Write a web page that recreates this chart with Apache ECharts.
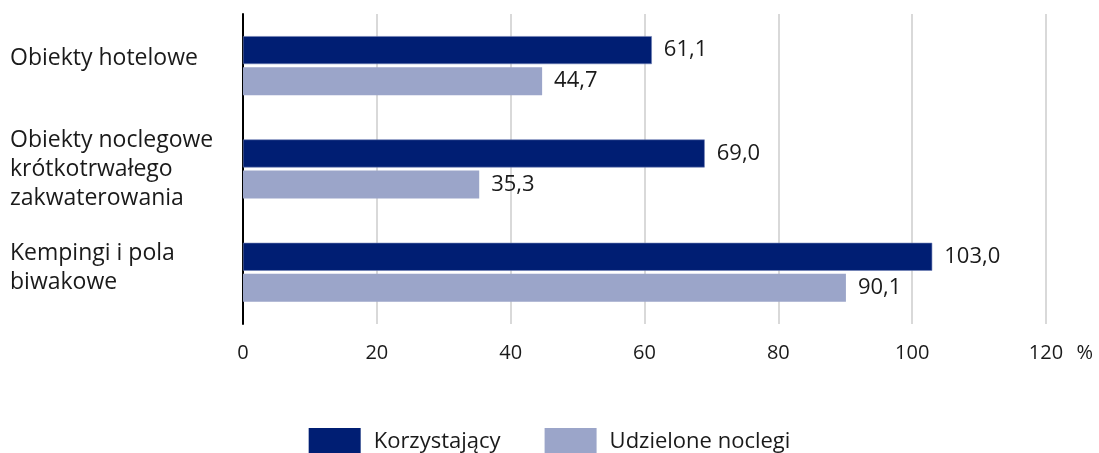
<!DOCTYPE html>
<html><head><meta charset="utf-8">
<script src="https://cdn.jsdelivr.net/npm/echarts@6/dist/echarts.min.js"></script>
<style>html,body{margin:0;padding:0;background:#fff}#c{width:1099px;height:453px}</style>
</head><body><div id="c"></div>
<script>
const categories = ['Obiekty hotelowe', 'Obiekty noclegowe\nkrótkotrwałego\nzakwaterowania', 'Kempingi i pola\nbiwakowe'];
const seriesNames = ['Korzystający', 'Udzielone noclegi'];
const korzystajacy = [61.1, 69.0, 103.0];
const udzieloneNoclegi = [44.7, 35.3, 90.1];
const xTicks = [0, 20, 40, 60, 80, 100, 120];
const unitLabel = '%';

const mainFont = '"Open Sans", "Noto Sans", sans-serif';
const fmt = v => v.toFixed(1).replace('.', ',');
const catShiftKeys = ['g14', '', 'g8'];

const chart = echarts.init(document.getElementById('c'), null, {renderer: 'canvas'});
chart.setOption({
  animation: false,
  grid: {left: 243, right: 53, top: 14, bottom: 129, containLabel: false, outerBoundsMode: 'none'},
  legend: {
    data: seriesNames, bottom: -8, left: 'center', itemWidth: 52, itemHeight: 28, itemGap: 44,
    icon: 'rect', itemStyle: {borderWidth: 0},
    textStyle: {fontFamily: mainFont, fontSize: 22, color: '#1a1a1a', padding: [0,0,0,8]}
  },
  graphic: [{type: 'text', right: 6, top: 343, style: {text: unitLabel, font: '20px "Open Sans", sans-serif', fill: '#1a1a1a'}}],
  xAxis: {
    type: 'value', min: 0, max: 120, interval: 20,
    axisLine: {show: false}, axisTick: {show: false},
    splitLine: {show: true, lineStyle: {color: '#d9d9d9', width: 2}},
    axisLabel: {fontFamily: mainFont, fontSize: 20, color: '#1a1a1a', margin: 19,
      formatter: v => xTicks.includes(v) ? String(v) : ''}
  },
  yAxis: {
    type: 'category', inverse: true, data: categories,
    axisLine: {show: true, lineStyle: {color: '#000', width: 2}},
    axisTick: {show: false},
    axisLabel: {align: 'left', margin: 233, fontFamily: mainFont, fontSize: 23, color: '#1a1a1a', lineHeight: 29,
      formatter: (v, i) => catShiftKeys[i] ? v + '\n{' + catShiftKeys[i] + '|}' : v,
      rich: {g14: {lineHeight: 14, fontSize: 1}, g8: {lineHeight: 8, fontSize: 1}}}
  },
  series: [
    {name: seriesNames[0], type: 'bar', data: korzystajacy, barWidth: 28, barGap: '11%',
     itemStyle: {color: '#001E73', borderColor: '#6f7fb5', borderWidth: 0.6},
     label: {show: true, position: 'right', distance: 12, fontFamily: mainFont, fontSize: 22, color: '#1a1a1a',
       formatter: p => fmt(p.value)}},
    {name: seriesNames[1], type: 'bar', data: udzieloneNoclegi, barWidth: 28,
     itemStyle: {color: '#9BA5C9'},
     label: {show: true, position: 'right', distance: 12, fontFamily: mainFont, fontSize: 22, color: '#1a1a1a',
       formatter: p => fmt(p.value)}}
  ]
});
</script></body></html>
